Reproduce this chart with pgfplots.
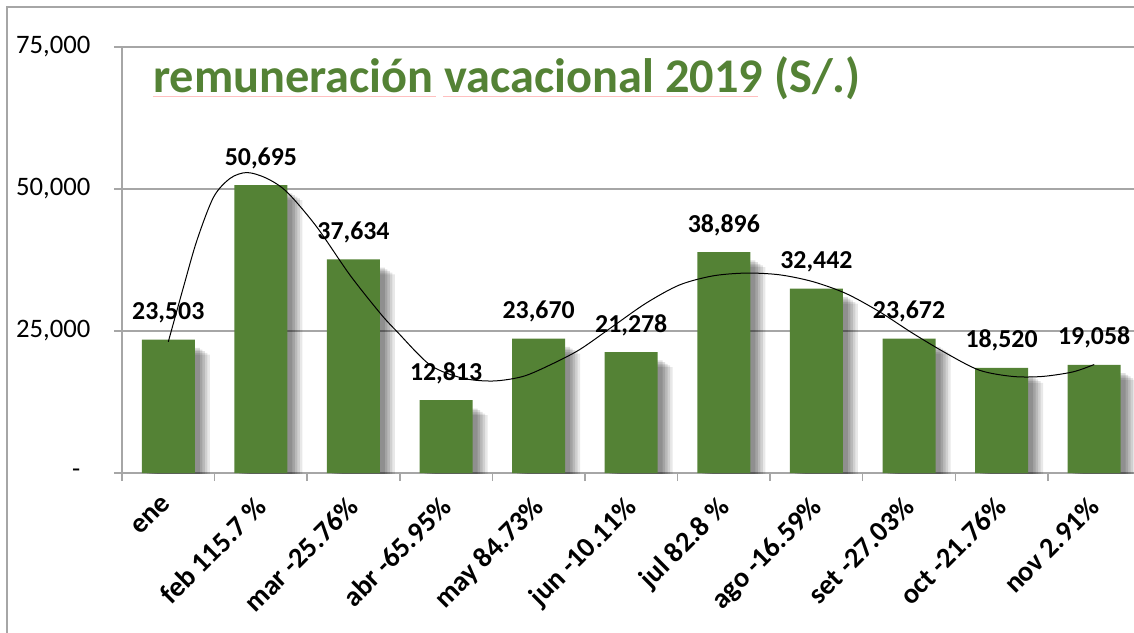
\documentclass[border=0pt]{standalone}
\usepackage{fontspec}
\setmainfont{Carlito}
\usepackage{pgfplots}
\usepackage{pgfplotstable}
\pgfplotsset{compat=1.18}
\definecolor{verde}{RGB}{84,130,53}
\definecolor{rejilla}{RGB}{166,166,166}

% remuneracion mensual (S/.)
\pgfplotstableread{
x y
0 23503
1 50695
2 37634
3 12813
4 23670
5 21278
6 38896
7 32442
8 23672
9 18520
10 19058
}\remuneracion

% linea de tendencia
\pgfplotstableread{
x y
0.00 23100
0.165 32800
0.31 41000
0.49 48600
0.67 51900
0.85 52900
1.06 51900
1.28 49500
1.60 43400
1.96 34900
2.29 28100
2.47 24900
2.83 19000
3.18 16700
3.51 16200
3.83 17000
4.12 19000
4.44 21700
4.80 25800
5.16 29900
5.52 33100
5.88 34700
6.24 35200
6.60 34900
6.96 33700
7.32 31600
7.68 28400
8.04 24600
8.40 21100
8.76 18100
9.12 17000
9.44 17000
9.77 17800
10.00 19100
}\tendencia

\begin{document}
\begin{tikzpicture}[x=0.6pt,y=0.6pt]
\useasboundingbox (0,0) rectangle (1134,632);
\draw[rejilla, line width=0.9pt] (7,-10) -- (7,625) -- (1145,625);
\node[anchor=base west, inner sep=0pt, text=verde,
  font=\bfseries\fontsize{29}{34}\selectfont] at (153,539) {remuneración vacacional 2019 (S/.)};
\draw[red!25, line width=0.4pt] (153,536) -- (436,536);
\draw[red!25, line width=0.4pt] (443,536) -- (758,536);
\begin{axis}[
  at={(73.2pt,95.4pt)}, anchor=south west,
  scale only axis, width=607.2pt, height=255.6pt,
  xmin=-0.5, xmax=10.43, ymin=0, ymax=75000,
  clip=true, scaled y ticks=false,
  axis x line*=bottom, axis y line*=left,
  axis line style={rejilla, line width=0.9pt, -},
  ymajorgrids, grid style={rejilla, line width=0.7pt},
  tick align=outside, major tick length=4.8pt,
  tick style={rejilla, line width=0.9pt},
  ytick={0,25000,50000,75000},
  yticklabels={{-\hspace*{6pt}},{25,000},{50,000},{75,000}},
  yticklabel style={font=\fontsize{16}{19}\selectfont, anchor=east, inner sep=0pt, xshift=-14pt},
  xtick={-0.5,0.5,...,9.5}, xticklabels={},
  extra x ticks={0,1,2,3,4,5,6,7,8,9,10},
  extra x tick labels={ene, feb 115.7 \%, mar -25.76\%, abr -65.95\%, may 84.73\%, jun -10.11\%, jul 82.8 \%, ago -16.59\%, set -27.03\%, oct -21.76\%, nov 2.91\%},
  extra x tick style={major tick length=0pt,
    xticklabel style={xshift=-4.2pt, yshift=-13pt, rotate=45, anchor=north east, inner sep=0pt,
      font=\bfseries\fontsize{17}{20}\selectfont}},
  /pgf/number format/assume math mode=true,
  /pgf/number format/1000 sep={,},
  /pgf/number format/fixed, /pgf/number format/precision=0,
]
% sombra de las barras
\addplot[ybar, bar width=31.8pt, bar shift=9pt, fill=black, draw=none, fill opacity=0.09, yshift=-9pt] table[x=x,y=y]{\remuneracion};
\addplot[ybar, bar width=31.8pt, bar shift=7.5pt, fill=black, draw=none, fill opacity=0.10, yshift=-8pt] table[x=x,y=y]{\remuneracion};
\addplot[ybar, bar width=31.8pt, bar shift=6pt, fill=black, draw=none, fill opacity=0.11, yshift=-7pt] table[x=x,y=y]{\remuneracion};
\addplot[ybar, bar width=31.8pt, bar shift=4.5pt, fill=black, draw=none, fill opacity=0.12, yshift=-6pt] table[x=x,y=y]{\remuneracion};
\addplot[ybar, bar width=31.8pt, bar shift=3pt, fill=black, draw=none, fill opacity=0.12, yshift=-5pt] table[x=x,y=y]{\remuneracion};
% barras
\addplot[ybar, bar width=31.8pt, bar shift=0pt, fill=verde, draw=none,
  nodes near coords,
  every node near coord/.append style={font=\bfseries\fontsize{15.5}{18}\selectfont,
    anchor=base, inner sep=0pt, yshift=12pt, text=black}]
  table[x=x,y=y]{\remuneracion};
% tendencia
\addplot[smooth, black, line width=0.6pt, mark=none] table[x=x,y=y]{\tendencia};
\end{axis}
\end{tikzpicture}
\end{document}
